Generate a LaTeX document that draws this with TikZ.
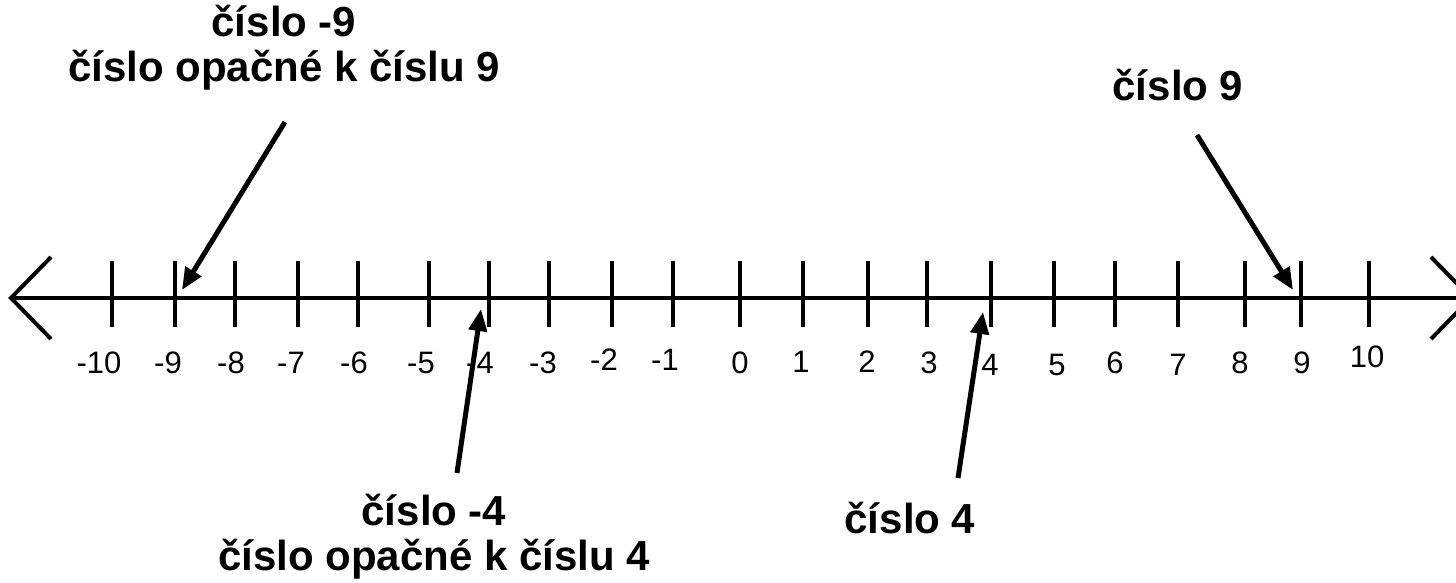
\documentclass[tikz,border=0pt]{standalone}
\usepackage{fontspec}
\setmainfont{Liberation Sans}
\usetikzlibrary{arrows.meta}

\begin{document}
\begin{tikzpicture}[x=0.5pt,y=-0.5pt,
    axis/.style={line width=2pt,black},
    num/.style={font=\fontsize{15.5}{18}\selectfont, anchor=base, inner sep=0pt},
    note/.style={font=\bfseries\fontsize{21}{22.5}\selectfont, align=center,
        anchor=base, inner sep=0pt},
    pointer/.style={line width=2.5pt, -{Triangle[length=11pt,width=9pt]}}]
    \useasboundingbox (0,0) rectangle (1456,583);

    % the number line
    \coordinate (left) at (11,298);
    \coordinate (right) at (1471,298);
    \draw[axis] (left) -- (right);
    \draw[axis] ([shift={(40,-41)}]left) -- (left) -- ([shift={(40,41)}]left);
    \draw[axis] ([shift={(-40,-41)}]right) -- (right) -- ([shift={(-40,41)}]right);

    \foreach \n/\x in {m10/112,m9/175,m8/235,m7/298,m6/358,m5/429,m4/489,
        m3/549,m2/612,m1/673,0/740,1/803,2/868,3/927,4/991,5/1054,6/1115,
        7/1178,8/1245,9/1301,10/1369}
    {
        \draw[axis] (\x,261) -- (\x,327);
        \coordinate (t\n) at (\x,298);
    }

    \foreach \v/\x/\y in {-10/99/373,-9/168/373,-8/231/373,-7/291/373,
        -6/354/373,-5/421/373,-4/480/373,-3/543/373,-2/604/370,-1/665/370,
        0/740/373,1/801/372,2/867/372,3/929/373,4/990/375,5/1057/375,
        6/1115/373,7/1178/375,8/1240/373,9/1302/373,10/1367/367}
        \node[num] (n\v) at (\x,\y) {\v};

    % labels and pointers (base = last line)
    \node[note] (lm9) at (284,82) {číslo -9\\číslo opačné k číslu 9};
    \node[note] (l9) at (1178,101) {číslo 9};
    \node[note] (lm4) at (434,570) {číslo -4\\číslo opačné k číslu 4};
    \node[note] (l4) at (910,533) {číslo 4};

    \coordinate (pm9) at (285,122);
    \coordinate (p9) at (1197,135);
    \coordinate (pm4) at (457,473);
    \coordinate (p4) at (958,478);

    \draw[pointer] (pm9) -- ([shift={(7,-8)}]tm9);
    \draw[pointer] (p9) -- ([shift={(-8,-8)}]t9);
    \draw[pointer] (pm4) -- ([shift={(-8,11)}]tm4);
    \draw[pointer] (p4) -- ([shift={(-8,14)}]t4);
\end{tikzpicture}
\end{document}
